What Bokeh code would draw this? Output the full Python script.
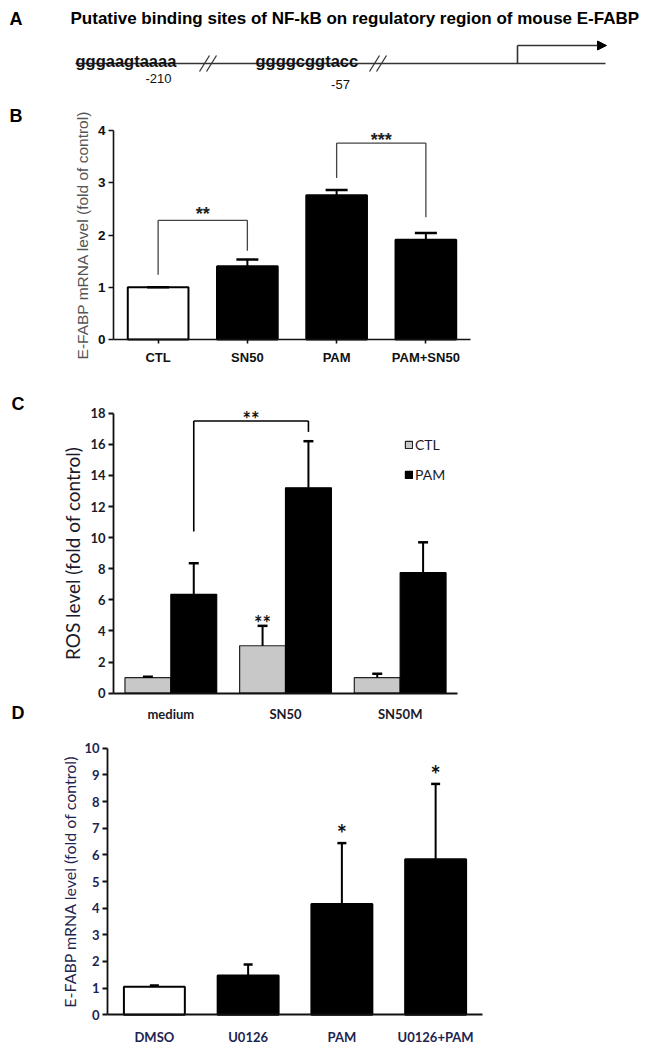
from bokeh.plotting import figure
from bokeh.models import (Range1d, ColumnDataSource, Legend, LegendItem, Arrow,
                          NormalHead, FixedTicker, LinearAxis)
from bokeh.core.properties import value
from bokeh.embed import file_html
from bokeh.resources import INLINE

# ---------------- data ----------------
A_TITLE = "Putative binding sites of NF-kB on regulatory region of mouse E-FABP"
A_SEQS = ["gggaagtaaaa", "ggggcggtacc"]
A_POSITIONS = ["-210", "-57"]
PANEL_LETTERS = ["A", "B", "C", "D"]

B_CATS = ["CTL", "SN50", "PAM", "PAM+SN50"]
B_MEAN = [1.00, 1.40, 2.76, 1.91]
B_ERR = [0.00, 0.13, 0.10, 0.13]
B_FILL = ["white", "black", "black", "black"]
B_YTICKS = [0, 1, 2, 3, 4]
B_YLABEL = "E-FABP mRNA level (fold of control)"
B_SIG_LEFT = ["CTL", "PAM"]
B_SIG_RIGHT = ["SN50", "PAM+SN50"]
B_SIG_LFOOT = [1.24, 3.09]
B_SIG_TOP = [2.28, 3.76]
B_SIG_RFOOT = [1.70, 2.34]
B_SIG_TEXT = ["**", "***"]

C_GROUPS = ["medium", "SN50", "SN50M"]
C_SERIES = ["CTL", "PAM"]
C_CTL = [1.00, 3.05, 1.00]
C_CTL_ERR = [0.05, 1.28, 0.25]
C_PAM = [6.35, 13.20, 7.75]
C_PAM_ERR = [2.00, 3.00, 1.95]
C_CTL_STARS = ["", "**", ""]
C_YTICKS = [0, 2, 4, 6, 8, 10, 12, 14, 16, 18]
C_YLABEL = "ROS level (fold of control)"
C_SIG_LEFT = ["medium"]
C_SIG_RIGHT = ["SN50"]
C_SIG_LFOOT = [10.4]
C_SIG_TOP = [17.5]
C_SIG_RFOOT = [16.8]
C_SIG_TEXT = ["**"]

D_CATS = ["DMSO", "U0126", "PAM", "U0126+PAM"]
D_MEAN = [1.05, 1.47, 4.16, 5.83]
D_ERR = [0.05, 0.42, 2.28, 2.83]
D_FILL = ["white", "black", "black", "black"]
D_STARS = ["", "", "*", "*"]
D_YTICKS = list(range(0, 11))
D_YLABEL = "E-FABP mRNA level (fold of control)"

# ---------------- layout (canvas pixels, origin top-left) ----------------
W, H = 653, 1050
ARIAL = "Liberation Sans"
CALIBRI = "Lato"

p = figure(toolbar_location=None, output_backend="svg", frame_width=W, frame_height=H,
           x_range=Range1d(0, W), y_range=Range1d(H, 0), min_border=0,
           x_axis_type=None, y_axis_type=None)
p.grid.visible = False
p.outline_line_color = None
p.background_fill_color = "white"
p.border_fill_color = "white"


def panel_ranges(name, left, right, n, y0px, ytop_px, ytop_val):
    """Linear ranges so that categories -0.5..n-0.5 span [left, right] and
    values 0..ytop_val span canvas rows y0px..ytop_px (measured from the top)."""
    sx = (right - left) / n
    p.extra_x_ranges[name + "x"] = Range1d(-0.5 - left / sx, -0.5 + (W - left) / sx)
    cb, ct = H - y0px, H - ytop_px
    sy = (ct - cb) / ytop_val
    p.extra_y_ranges[name + "y"] = Range1d(-cb / sy, (H - cb) / sy)


def add_axes(name, cats, yticks, ybound, tick_font, tick_size, tick_color, xlab_size,
             ylabel, lab_font, lab_size, lab_color, lab_standoff, x_tick_out, x_standoff, lw):
    n = len(cats)
    ya = LinearAxis(x_range_name=name + "x", y_range_name=name + "y", fixed_location=-0.5,
                    bounds=(0, ybound), ticker=FixedTicker(ticks=yticks), axis_label=ylabel)
    xa = LinearAxis(x_range_name=name + "x", y_range_name=name + "y", fixed_location=0,
                    bounds=(-0.5, n - 0.5), ticker=FixedTicker(ticks=list(range(n))),
                    major_label_overrides={i: c for i, c in enumerate(cats)})
    for ax in (ya, xa):
        ax.axis_line_width = lw
        ax.axis_line_color = "#111111"
        ax.major_tick_line_width = lw
        ax.major_tick_line_color = "#111111"
        ax.minor_tick_line_color = None
        ax.major_tick_in = 0
        ax.major_label_text_font = tick_font
        ax.major_label_text_font_style = "bold"
        ax.major_label_text_color = tick_color
    ya.major_tick_out = 5
    ya.major_label_text_font_size = tick_size
    ya.major_label_standoff = 3
    ya.axis_label_text_font = lab_font
    ya.axis_label_text_font_style = "normal"
    ya.axis_label_text_font_size = lab_size
    ya.axis_label_text_color = lab_color
    ya.axis_label_standoff = lab_standoff
    xa.major_tick_out = x_tick_out
    if not x_tick_out:
        xa.major_tick_line_color = None
    xa.major_label_text_font_size = xlab_size
    xa.major_label_standoff = x_standoff
    p.add_layout(ya, "left")
    p.add_layout(xa, "below")


def error_bars(name, xs, means, errs, cap):
    tops = [m + e for m, e in zip(means, errs)]
    src = ColumnDataSource(dict(x=xs, m=means, t=tops))
    p.segment(x0="x", y0="m", x1="x", y1="t", source=src, line_color="black", line_width=2,
              x_range_name=name + "x", y_range_name=name + "y")
    p.scatter(x="x", y="t", source=src, marker="dash", size=cap, line_color="black",
              line_width=2.5, x_range_name=name + "x", y_range_name=name + "y")
    return tops


def bracket(name, xl, xr, lf, top, rf, color, lw):
    src = ColumnDataSource(dict(xl=xl, xr=xr, lf=lf, t=top, rf=rf))
    kw = dict(source=src, line_color=color, line_width=lw,
              x_range_name=name + "x", y_range_name=name + "y")
    p.segment(x0="xl", y0="lf", x1="xl", y1="t", **kw)
    p.segment(x0="xl", y0="t", x1="xr", y1="t", **kw)
    p.segment(x0="xr", y0="t", x1="xr", y1="rf", **kw)


# ---------------- Panel A (diagram) + panel letters ----------------
p.text(x=[9, 9, 11, 11], y=[18, 115, 403, 712], text=PANEL_LETTERS, text_font=value(ARIAL),
       text_font_style="bold", text_font_size="18px", text_baseline="middle", text_align="left")
p.text(x=[70], y=[18], text=[A_TITLE], text_font=value(ARIAL), text_font_style="bold",
       text_font_size="17px", text_baseline="middle", text_align="left")
p.segment(x0=[75], y0=[63], x1=[605], y1=[63], line_color="#333333", line_width=1.6)
p.text(x=[75, 255], y=[60, 60], text=A_SEQS, text_font=value(ARIAL), text_font_style="bold",
       text_font_size="16.5px", text_baseline="alphabetic", text_align="left", text_color="#111111")
p.text(x=[158, 340], y=[78, 84], text=A_POSITIONS, text_font=value(ARIAL),
       text_font_size="13px", text_baseline="middle", text_align="center", text_color="#111111")
p.segment(x0=[199, 206, 369, 376], y0=[71, 71, 71, 71], x1=[209, 216, 379, 386],
          y1=[55, 55, 55, 55], line_color="#333333", line_width=1.3)
p.segment(x0=[517], y0=[63], x1=[517], y1=[45], line_color="#333333", line_width=1.6)
p.add_layout(Arrow(end=NormalHead(size=9, fill_color="black", line_color="black"),
                   x_start=517, y_start=45, x_end=606, y_end=45,
                   line_color="#333333", line_width=1.6))

# ---------------- Panel B ----------------
panel_ranges("B", 113, 470, len(B_CATS), 339, 130, 4)
bx = list(range(len(B_CATS)))
p.vbar(x=bx, top=B_MEAN, width=0.68, fill_color=B_FILL, line_color="black", line_width=2,
       x_range_name="Bx", y_range_name="By")
error_bars("B", bx, B_MEAN, B_ERR, 22)
bl = [B_CATS.index(c) for c in B_SIG_LEFT]
br = [B_CATS.index(c) for c in B_SIG_RIGHT]
bracket("B", bl, br, B_SIG_LFOOT, B_SIG_TOP, B_SIG_RFOOT, "#444444", 1.3)
p.text(x=[(a + b) / 2 for a, b in zip(bl, br)], y=B_SIG_TOP, text=B_SIG_TEXT, y_offset=[4, 7],
       text_font=value(ARIAL), text_font_style="bold", text_font_size="18px",
       text_align="center", text_baseline="bottom", text_color="#222222",
       x_range_name="Bx", y_range_name="By")
add_axes("B", B_CATS, B_YTICKS, 4, ARIAL, "13.5px", "#111111", "13px", B_YLABEL, ARIAL,
         "15.5px", "#555555", 4, 4, 6, 1.6)

# ---------------- Panel C ----------------
panel_ranges("C", 113, 457, len(C_GROUPS), 692.7, 412.7, 18)
cx = list(range(len(C_GROUPS)))
cxl = [x - 0.2 for x in cx]
cxr = [x + 0.2 for x in cx]
r_ctl = p.vbar(x=cxl, top=C_CTL, width=0.4, fill_color="#c8c8c8", line_color="#222222",
               line_width=1.2, x_range_name="Cx", y_range_name="Cy")
r_pam = p.vbar(x=cxr, top=C_PAM, width=0.4, fill_color="black", line_color="black",
               line_width=1.2, x_range_name="Cx", y_range_name="Cy")
ctl_tops = error_bars("C", cxl, C_CTL, C_CTL_ERR, 10)
error_bars("C", cxr, C_PAM, C_PAM_ERR, 10)
p.text(x=cxl, y=ctl_tops, text=C_CTL_STARS, y_offset=9,
       text_font=value(CALIBRI), text_font_style="bold", text_font_size="20px",
       text_align="center", text_baseline="bottom", text_color="#111111",
       x_range_name="Cx", y_range_name="Cy")
cl = [C_GROUPS.index(c) + 0.2 for c in C_SIG_LEFT]
cr = [C_GROUPS.index(c) + 0.2 for c in C_SIG_RIGHT]
bracket("C", cl, cr, C_SIG_LFOOT, C_SIG_TOP, C_SIG_RFOOT, "black", 1.6)
p.text(x=[(a + b) / 2 for a, b in zip(cl, cr)], y=C_SIG_TOP, text=C_SIG_TEXT, y_offset=10,
       text_font=value(CALIBRI), text_font_style="bold", text_font_size="20px",
       text_align="center", text_baseline="bottom", text_color="#111111",
       x_range_name="Cx", y_range_name="Cy")
add_axes("C", C_GROUPS, C_YTICKS, 18, CALIBRI, "13px", "#1a1a2a", "13px", C_YLABEL, CALIBRI,
         "19px", "#1a1a2a", 3, 0, 13, 1.8)
leg = Legend(items=[LegendItem(label=C_SERIES[0], renderers=[r_ctl]),
                    LegendItem(label=C_SERIES[1], renderers=[r_pam])],
             location=(404, 566), glyph_width=9, glyph_height=9, label_height=20,
             spacing=10, padding=0, margin=0, border_line_color=None,
             background_fill_alpha=0, label_text_font=CALIBRI, label_text_font_size="14px",
             label_standoff=2, label_text_color="#1a1a2a")
p.add_layout(leg)

# ---------------- Panel D ----------------
panel_ranges("D", 107, 482, len(D_CATS), 1014.3, 747.7, 10)
dx = list(range(len(D_CATS)))
p.vbar(x=dx, top=D_MEAN, width=0.65, fill_color=D_FILL, line_color="black", line_width=2,
       x_range_name="Dx", y_range_name="Dy")
d_tops = error_bars("D", dx, D_MEAN, D_ERR, 9)
p.text(x=dx, y=d_tops, text=D_STARS, y_offset=5,
       text_font=value(CALIBRI), text_font_style="bold", text_font_size="24px",
       text_align="center", text_baseline="bottom", text_color="#111111",
       x_range_name="Dx", y_range_name="Dy")
add_axes("D", D_CATS, D_YTICKS, 10, CALIBRI, "13px", "#1c2450", "13px", D_YLABEL, CALIBRI,
         "16px", "#1c2450", 2, 0, 14, 1.8)

open("out.html", "w").write(file_html(p, INLINE))
